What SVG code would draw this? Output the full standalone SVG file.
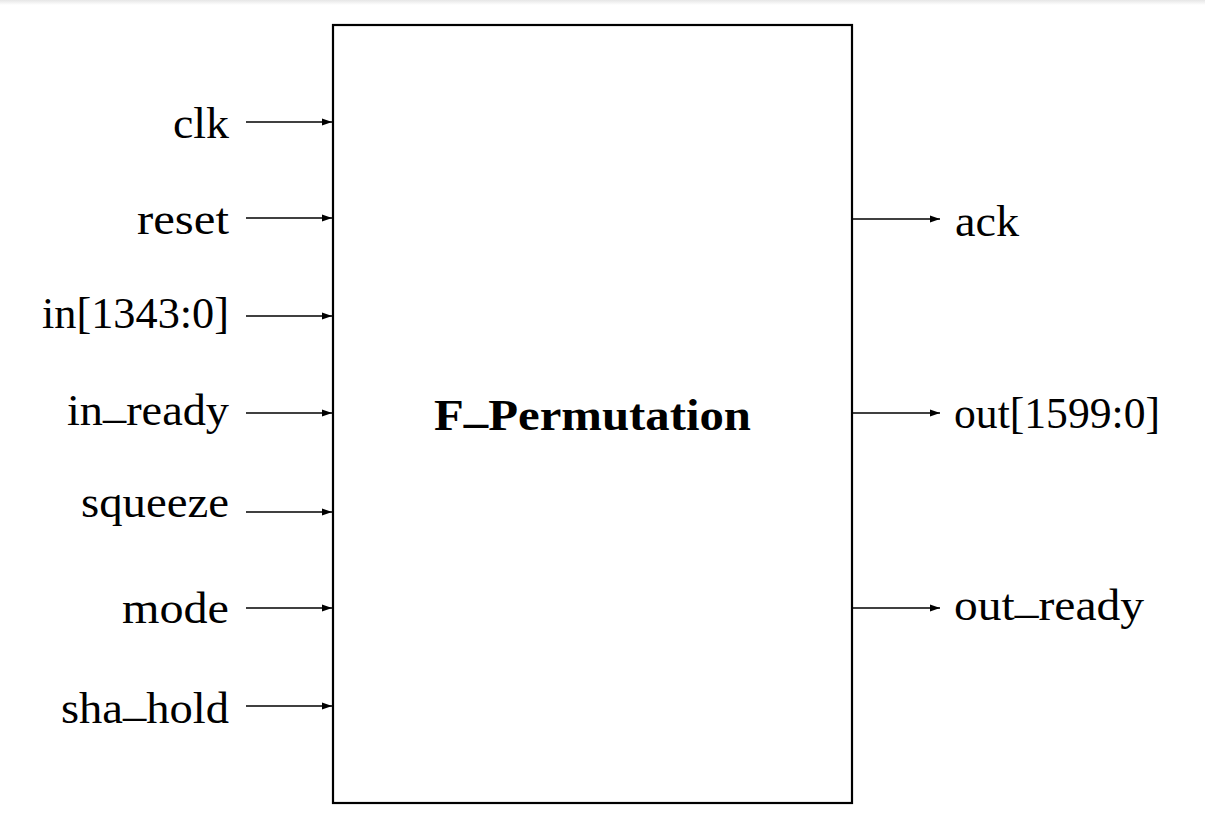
<svg xmlns="http://www.w3.org/2000/svg" width="1205" height="823" viewBox="0 0 1205 823">
  <style>
    .lbl { font-family: "Liberation Serif", "Times New Roman", serif; font-size: 44px; fill: #000; }
    .l { text-anchor: end; }
    .r { text-anchor: start; }
    .title { font-family: "Liberation Serif", "Times New Roman", serif; font-size: 44px; font-weight: bold; fill: #000; text-anchor: middle; }
    .wire { stroke: #000; stroke-width: 1.4; fill: none; marker-end: url(#ah); }
    .box { fill: #fff; stroke: #000; stroke-width: 2.2; }
  </style>
  <defs>
    <linearGradient id="topshade" x1="0" y1="0" x2="0" y2="1">
      <stop offset="0" stop-color="#e6e6e6"/>
      <stop offset="1" stop-color="#ffffff"/>
    </linearGradient>
    <marker id="ah" markerUnits="userSpaceOnUse" markerWidth="12" markerHeight="10" refX="10" refY="4" orient="auto">
      <path d="M0,0.5 L10,4 L0,7.5 z" fill="#000"/>
    </marker>
  </defs>
  <rect x="0" y="0" width="1205" height="823" fill="#fff"/>
  <rect x="0" y="0" width="1205" height="5" fill="url(#topshade)"/>

  <g id="F_Permutation">
    <rect class="box" x="333" y="25" width="519" height="778"/>
    <text class="title" x="592.5" y="430" textLength="317" lengthAdjust="spacingAndGlyphs">F<tspan dy="-8">_</tspan><tspan dy="8">Permutation</tspan></text>
  </g>

  <g id="in_clk"><text class="lbl l" x="229" y="138" textLength="56" lengthAdjust="spacingAndGlyphs">clk</text></g>
  <g id="in_reset"><text class="lbl l" x="229" y="234" textLength="92" lengthAdjust="spacingAndGlyphs">reset</text></g>
  <g id="in_data"><text class="lbl l" x="229" y="328" textLength="187" lengthAdjust="spacingAndGlyphs">in[1343:0]</text></g>
  <g id="in_ready"><text class="lbl l" x="229" y="425" textLength="162" lengthAdjust="spacingAndGlyphs">in<tspan dy="-8">_</tspan><tspan dy="8">ready</tspan></text></g>
  <g id="in_squeeze"><text class="lbl l" x="229" y="517" textLength="148" lengthAdjust="spacingAndGlyphs">squeeze</text></g>
  <g id="in_mode"><text class="lbl l" x="229" y="623" textLength="107" lengthAdjust="spacingAndGlyphs">mode</text></g>
  <g id="in_sha_hold"><text class="lbl l" x="229" y="723" textLength="168" lengthAdjust="spacingAndGlyphs">sha<tspan dy="-8">_</tspan><tspan dy="8">hold</tspan></text></g>

  <g id="out_ack"><text class="lbl r" x="955" y="236" textLength="64" lengthAdjust="spacingAndGlyphs">ack</text></g>
  <g id="out_data"><text class="lbl r" x="954" y="428" textLength="206" lengthAdjust="spacingAndGlyphs">out[1599:0]</text></g>
  <g id="out_ready"><text class="lbl r" x="954" y="620" textLength="190" lengthAdjust="spacingAndGlyphs">out<tspan dy="-8">_</tspan><tspan dy="8">ready</tspan></text></g>

  <g id="connectors">
    <line class="wire" x1="246" y1="122" x2="332" y2="122"/>
    <line class="wire" x1="246" y1="218" x2="332" y2="218"/>
    <line class="wire" x1="246" y1="316" x2="332" y2="316"/>
    <line class="wire" x1="246" y1="413" x2="332" y2="413"/>
    <line class="wire" x1="246" y1="512" x2="332" y2="512"/>
    <line class="wire" x1="246" y1="608" x2="332" y2="608"/>
    <line class="wire" x1="246" y1="706" x2="332" y2="706"/>
    <line class="wire" x1="853" y1="219" x2="940" y2="219"/>
    <line class="wire" x1="853" y1="413" x2="940" y2="413"/>
    <line class="wire" x1="853" y1="608" x2="940" y2="608"/>
  </g>
</svg>
